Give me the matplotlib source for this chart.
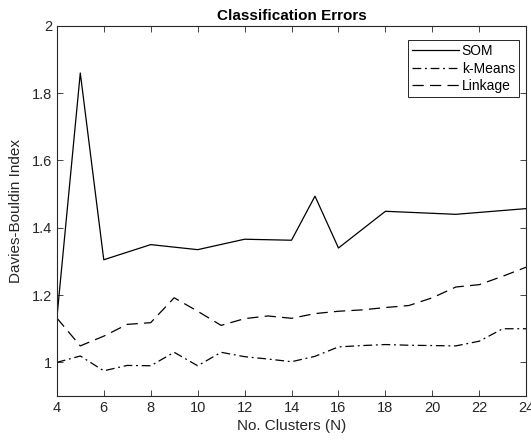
import numpy as np
import matplotlib
matplotlib.use('Agg')
import matplotlib.pyplot as plt

plt.rcParams['font.family'] = ['Liberation Sans', 'DejaVu Sans']

som_n = [4, 5, 6, 8, 10, 12, 14, 15, 16, 18, 21, 24]
som = [1.13, 1.86, 1.305, 1.35, 1.335, 1.366, 1.363, 1.494, 1.34, 1.449, 1.440, 1.457]

n = np.arange(4, 25)
kmeans = [1.0, 1.019, 0.975, 0.991, 0.990, 1.030, 0.990, 1.030, 1.017, 1.010, 1.002,
          1.018, 1.046, 1.050, 1.053, 1.051, 1.050, 1.049, 1.063, 1.100, 1.100]
linkage = [1.132, 1.049, 1.078, 1.113, 1.118, 1.192, 1.152, 1.110, 1.130, 1.138, 1.131,
           1.145, 1.152, 1.156, 1.163, 1.169, 1.192, 1.224, 1.231, 1.256, 1.283]

fig = plt.figure(figsize=(5.31, 4.46), dpi=100)
ax = fig.add_axes([0.107, 0.112, 0.884, 0.830])

ax.plot(som_n, som, color='black', lw=0.9, ls='-', label='SOM')
ax.plot(n, kmeans, color='black', lw=0.9, ls=(0, (7, 3, 1.5, 3)), label='k-Means')
ax.plot(n, linkage, color='black', lw=0.9, ls=(0, (9, 5)), label='Linkage')

ax.set_xlim(4, 24)
ax.set_ylim(0.9, 2)
ax.set_xticks(np.arange(4, 25, 2))
ax.set_yticks([1, 1.2, 1.4, 1.6, 1.8, 2])
ax.set_yticklabels(['1', '1.2', '1.4', '1.6', '1.8', '2'])
ax.tick_params(direction='in', top=True, right=True, length=4, width=0.6,
               labelsize=10.5, colors='#262626')
for s in ax.spines.values():
    s.set_linewidth(0.8)
    s.set_color('#262626')

ax.set_xlabel('No. Clusters (N)', fontsize=11, color='#262626', labelpad=3)
ax.set_ylabel('Davies-Bouldin Index', fontsize=11, color='#262626', labelpad=6)
ax.set_title('Classification Errors', fontsize=11, fontweight='bold', pad=4)

leg = ax.legend(loc='upper right', bbox_to_anchor=(0.985, 0.962), fontsize=10,
                fancybox=False, framealpha=1, edgecolor='#262626',
                handlelength=3.4, handletextpad=0.2, borderaxespad=0,
                borderpad=0.3, labelspacing=0.25)
leg.get_frame().set_linewidth(0.7)

fig.savefig('out.png', dpi=100)
